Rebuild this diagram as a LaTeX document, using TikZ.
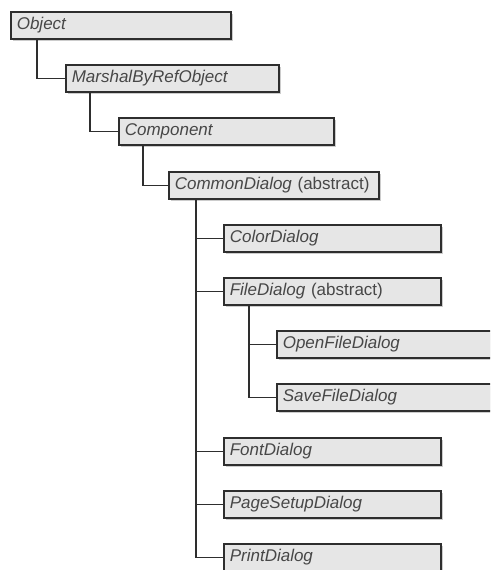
\documentclass[tikz,border=0pt]{standalone}
\usepackage{fontspec}
\setmainfont{Liberation Sans}
\usetikzlibrary{shadows,calc}
\definecolor{boxfill}{HTML}{E6E6E6}
\definecolor{boxline}{HTML}{2E2E2E}
\definecolor{txt}{HTML}{474747}
\tikzset{
  classbox/.style={draw=boxline, line width=1.6pt, fill=boxfill, rectangle,
    anchor=north west, minimum height=27pt, inner ysep=0pt, inner xsep=6pt,
    align=left, text=txt, font=\fontsize{17}{19}\selectfont,
    drop shadow={shadow xshift=2.5pt, shadow yshift=-2.5pt, fill=black!50, opacity=0.4}},
  link/.style={draw=boxline, line width=1.6pt}
}
\begin{document}
\begin{tikzpicture}[x=1pt,y=-1pt]
\useasboundingbox (0,0) rectangle (490,570);
\clip (0,0) rectangle (490,570);
\fill[white] (0,0) rectangle (490,570);
\node[classbox, text width=208pt] (obj) at (10,11) {\textit{Object}};
\node[classbox, text width=201pt] (mbr) at (65,64) {\textit{MarshalByRefObject}};
\node[classbox, text width=203pt] (comp) at (118,117) {\textit{Component}};
\node[classbox, text width=198pt] (cd) at (168,171) {\textit{CommonDialog} (abstract)};
\node[classbox, text width=205pt] (color) at (223,224) {\textit{ColorDialog}};
\node[classbox, text width=205pt] (file) at (223,277) {\textit{FileDialog} (abstract)};
\node[classbox, text width=212pt] (open) at (276,330) {\textit{OpenFileDialog}};
\node[classbox, text width=212pt] (save) at (276,383) {\textit{SaveFileDialog}};
\node[classbox, text width=205pt] (font) at (223,437) {\textit{FontDialog}};
\node[classbox, text width=205pt] (page) at (223,490) {\textit{PageSetupDialog}};
\node[classbox, text width=205pt] (print) at (223,543) {\textit{PrintDialog}};
\draw[link] ($(obj.south west)+(27,0)$) |- (mbr.west);
\draw[link] ($(mbr.south west)+(25,0)$) |- (comp.west);
\draw[link] ($(comp.south west)+(25,0)$) |- (cd.west);
\draw[link] ($(cd.south west)+(28,0)$) |- (color.west);
\draw[link] ($(cd.south west)+(28,0)$) |- (file.west);
\draw[link] ($(cd.south west)+(28,0)$) |- (font.west);
\draw[link] ($(cd.south west)+(28,0)$) |- (page.west);
\draw[link] ($(cd.south west)+(28,0)$) |- (print.west);
\draw[link] ($(file.south west)+(26,0)$) |- (open.west);
\draw[link] ($(file.south west)+(26,0)$) |- (save.west);
\end{tikzpicture}
\end{document}
